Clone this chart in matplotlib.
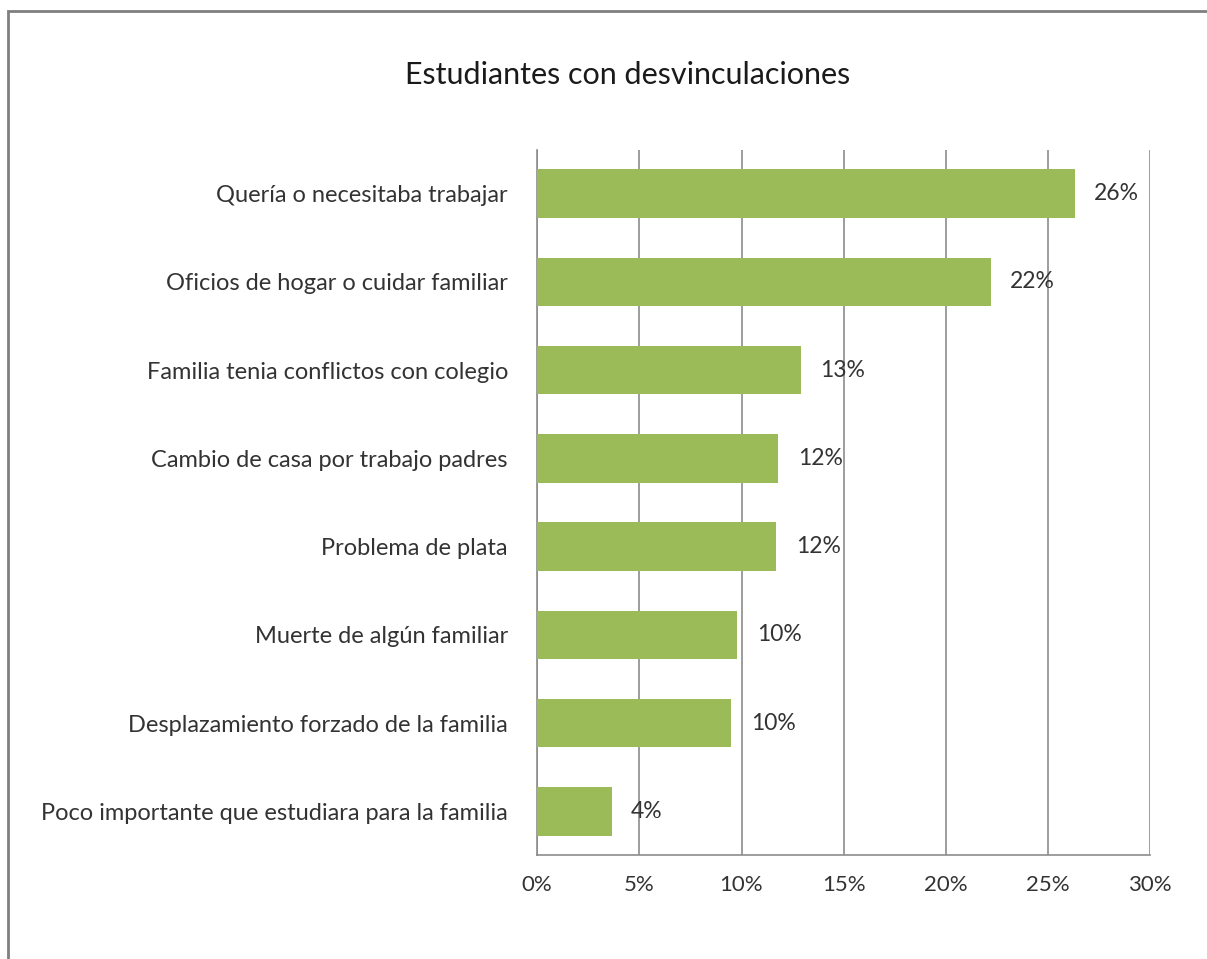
import matplotlib
matplotlib.use("Agg")
import matplotlib.pyplot as plt
import matplotlib.ticker as mticker
from matplotlib.patches import Rectangle

# data (top to bottom)
categories = [
    "Quería o necesitaba trabajar",
    "Oficios de hogar o cuidar familiar",
    "Familia tenia conflictos con colegio",
    "Cambio de casa por trabajo padres",
    "Problema de plata",
    "Muerte de algún familiar",
    "Desplazamiento forzado de la familia",
    "Poco importante que estudiara para la familia",
]
values = [0.263, 0.222, 0.129, 0.118, 0.117, 0.098, 0.095, 0.0365]
labels = ["26%", "22%", "13%", "12%", "12%", "10%", "10%", "4%"]
xticks = [0, 0.05, 0.10, 0.15, 0.20, 0.25, 0.30]

plt.rcParams['font.family'] = ['Lato', 'DejaVu Sans']

fig = plt.figure(figsize=(12.07, 9.59), dpi=100)
ax = fig.add_axes([0.445, 0.108, 0.508, 0.736])

ypos = list(range(len(categories)))[::-1]
ax.barh(ypos, values, height=0.55, color="#9BBB59", zorder=3)

for y, v, t in zip(ypos, values, labels):
    ax.annotate(t, (v, y), xytext=(14, 0), textcoords="offset points",
                va="center", ha="left", fontsize=16.5, color="#333333", zorder=4)

ax.set_xlim(0, 0.30)
ax.set_ylim(-0.5, len(categories) - 0.5)
ax.set_xticks(xticks)
ax.xaxis.set_major_formatter(mticker.PercentFormatter(1.0, decimals=0))
ax.set_yticks(ypos)
ax.set_yticklabels(categories)
ax.tick_params(axis="both", length=0, labelcolor="#333333")
ax.tick_params(axis="x", pad=14, labelsize=16)
ax.tick_params(axis="y", pad=21, labelsize=17)
ax.grid(axis="x", color="#8c8c8c", linewidth=1.2, zorder=0)

for s in ["top", "right"]:
    ax.spines[s].set_visible(False)
ax.spines["left"].set_color("#8c8c8c")
ax.spines["bottom"].set_color("#8c8c8c")
ax.spines["left"].set_linewidth(1.2)
ax.spines["bottom"].set_linewidth(1.2)

fig.text(0.52, 0.922, "Estudiantes con desvinculaciones", ha="center", va="center",
         fontsize=22, color="#1a1a1a")

# outer chart frame
fig.patches.append(Rectangle((0.007, -0.01), 1.0, 0.999, transform=fig.transFigure,
                             fill=False, edgecolor="#7f7f7f", linewidth=2))

fig.savefig("out.png", dpi=100)
